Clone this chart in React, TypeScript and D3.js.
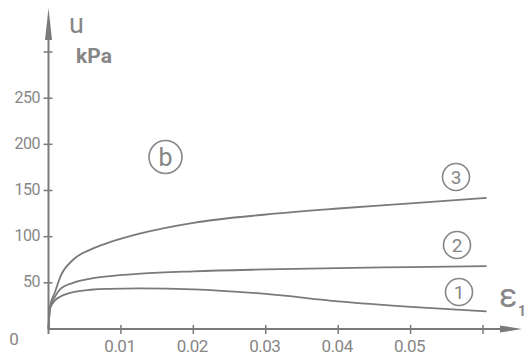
import React, { useEffect, useRef } from 'react';
import * as d3 from 'd3';

const strain = [0, 0.0002, 0.0009, 0.0016, 0.0034, 0.0058, 0.0081, 0.0127, 0.02, 0.03, 0.04, 0.05, 0.0605];
const curve1 = [0, 22, 31, 35, 40, 42.5, 43.5, 44, 43, 38, 30, 24, 19];
const curve2 = [0, 23, 35, 43, 50, 54.5, 57, 60, 62.5, 64.5, 66, 67, 68];
const curve3 = [0, 24, 40, 56, 75, 86, 93, 103.5, 115, 124, 130.5, 136, 142];
const series = [
  { id: '1', values: curve1 },
  { id: '2', values: curve2 },
  { id: '3', values: curve3 },
];
const xTicks = [0.01, 0.02, 0.03, 0.04, 0.05, 0.06];
const xTickLabels = ['0.01', '0.02', '0.03', '0.04', '0.05', ''];
const yTicks = [50, 100, 150, 200, 250, 300];
const yTickLabels = ['50', '100', '150', '200', '250', ''];

const App = () => {
  const ref = useRef<SVGSVGElement>(null);

  useEffect(() => {
    const svg = d3.select(ref.current);
    svg.selectAll('*').remove();
    const ink = '#7a7a7a';
    const txt = '#868686';
    const font = 'Roboto, sans-serif';

    const x = d3.scaleLinear().domain([0, 0.06]).range([48.5, 483]);
    const y = d3.scaleLinear().domain([0, 300]).range([329, 52]);

    // axes
    svg.append('line').attr('x1', x(0)).attr('x2', 503).attr('y1', y(0)).attr('y2', y(0))
      .attr('stroke', ink).attr('stroke-width', 2);
    svg.append('path').attr('d', `M500,${y(0) - 3.5} L522,${y(0)} L500,${y(0) + 3.5} Z`).attr('fill', ink);
    svg.append('line').attr('x1', x(0)).attr('x2', x(0)).attr('y1', 334).attr('y2', 36)
      .attr('stroke', ink).attr('stroke-width', 2);
    svg.append('path').attr('d', `M${x(0) - 3.5},40 L${x(0)},8 L${x(0) + 3.5},40 Z`).attr('fill', ink);

    const yt = svg.append('g');
    yt.selectAll('line').data(yTicks).join('line')
      .attr('x1', x(0) - 5).attr('x2', x(0) + 4)
      .attr('y1', d => y(d)).attr('y2', d => y(d))
      .attr('stroke', ink).attr('stroke-width', 1.5);
    yt.selectAll('text').data(yTicks).join('text')
      .attr('x', 40).attr('y', d => y(d) + 4.5)
      .attr('text-anchor', 'end').attr('font-family', font).attr('font-size', 16)
      .attr('letter-spacing', -0.5)
      .attr('fill', txt).text((d, i) => yTickLabels[i]);

    const xt = svg.append('g');
    xt.selectAll('line').data(xTicks).join('line')
      .attr('x1', d => x(d)).attr('x2', d => x(d))
      .attr('y1', y(0) - 4).attr('y2', y(0) + 5)
      .attr('stroke', ink).attr('stroke-width', 1.5);
    xt.selectAll('text').data(xTicks).join('text')
      .attr('x', d => x(d) - 1).attr('y', 352)
      .attr('text-anchor', 'middle').attr('font-family', font).attr('font-size', 17)
      .attr('letter-spacing', -0.5)
      .attr('fill', txt).text((d, i) => xTickLabels[i]);

    svg.append('text').attr('x', 14).attr('y', 345).attr('text-anchor', 'middle')
      .attr('font-family', font).attr('font-size', 17).attr('fill', txt).text('0');

    // axis titles
    svg.append('text').attr('x', 69).attr('y', 33).attr('font-family', font).attr('font-size', 27)
      .attr('fill', txt).text('u');
    svg.append('text').attr('x', 76).attr('y', 63).attr('font-family', font).attr('font-size', 21)
      .attr('font-weight', 'bold').attr('fill', txt).text('kPa');
    svg.append('text').attr('x', 499).attr('y', 307).attr('font-family', font).attr('font-size', 34)
      .attr('fill', txt).text('ε');
    svg.append('text').attr('x', 518).attr('y', 316).attr('font-family', font).attr('font-size', 14)
      .attr('font-weight', 'bold').attr('fill', txt).text('1');

    // curves
    const line = d3.line<number>()
      .x((d, i) => x(strain[i]))
      .y(d => y(d))
      .curve(d3.curveMonotoneX);
    svg.append('g').selectAll('path').data(series).join('path')
      .attr('d', d => line(d.values))
      .attr('fill', 'none').attr('stroke', ink).attr('stroke-width', 1.8);

    // circled labels
    const marks = [
      { t: 'b', cx: 165.5, cy: 157, r: 16.5, fs: 25 },
      { t: '3', cx: 456, cy: 177, r: 13.5, fs: 19 },
      { t: '2', cx: 457, cy: 245, r: 13.5, fs: 19 },
      { t: '1', cx: 459, cy: 292, r: 13.5, fs: 19 },
    ];
    const mg = svg.append('g').selectAll('g').data(marks).join('g');
    mg.append('circle').attr('cx', d => d.cx).attr('cy', d => d.cy).attr('r', d => d.r)
      .attr('fill', 'none').attr('stroke', txt).attr('stroke-width', 1.6);
    mg.append('text').attr('x', d => d.cx).attr('y', d => d.cy + d.fs * 0.36)
      .attr('text-anchor', 'middle').attr('font-family', font).attr('font-size', d => d.fs)
      .attr('fill', txt).text(d => d.t);
  }, []);

  return (
    <svg ref={ref} width={525} height={360}
      style={{ position: 'absolute', left: 0, top: 0, background: '#fff' }} />
  );
};

export default App;
